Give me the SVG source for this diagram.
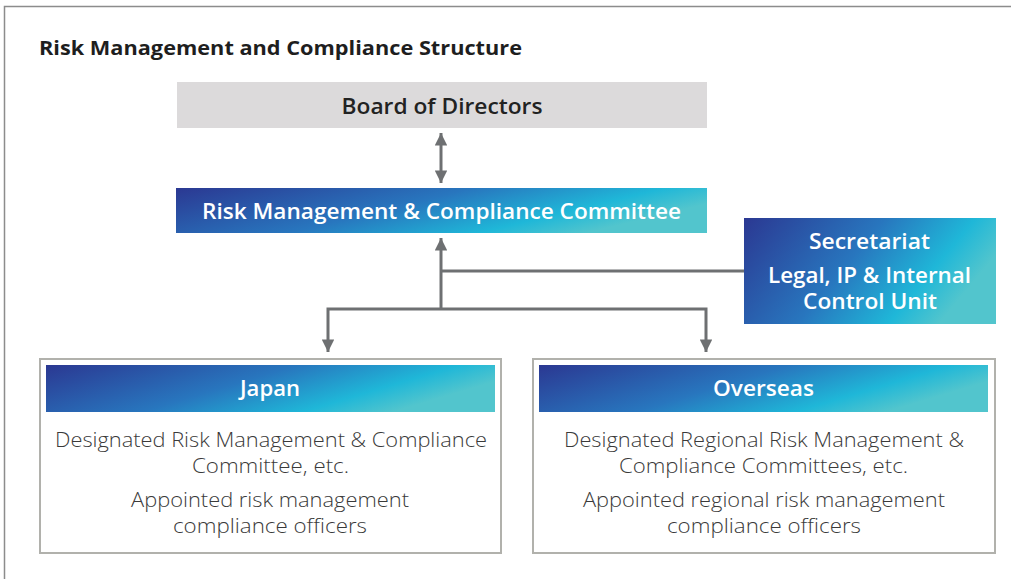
<svg xmlns="http://www.w3.org/2000/svg" width="1011" height="579" viewBox="0 0 1011 579">
<defs>
<linearGradient id="g" x1="0" y1="0" x2="1" y2="0.35" gradientUnits="objectBoundingBox">
<stop offset="0" stop-color="#2b3892"/>
<stop offset="0.5" stop-color="#2876be"/>
<stop offset="0.82" stop-color="#1fb7d8"/>
<stop offset="1" stop-color="#52c5cd"/>
</linearGradient>
<marker id="ah" viewBox="0 0 10 10" refX="10" refY="5" markerWidth="4.2" markerHeight="4.2" orient="auto-start-reverse" markerUnits="strokeWidth">
<path d="M0,0 L10,5 L0,10 z" fill="#6e7072"/>
</marker>
<style>
text{lengthAdjust:spacingAndGlyphs}
.hd{font-family:"Open Sans",sans-serif;font-weight:600;fill:#fff;font-size:21px;text-anchor:middle}
.bd{font-family:"Open Sans",sans-serif;font-weight:300;fill:#3a3a3a;font-size:20px;text-anchor:middle}
.ln{stroke:#6e7072;stroke-width:3;fill:none}
.box{fill:#fff;stroke:#b1b1ac;stroke-width:2}
</style>
</defs>
<rect x="0" y="0" width="1011" height="579" fill="#fff"/>
<path d="M4.5,579 V6.5 H1011" fill="none" stroke="#8c8c8c" stroke-width="1.5"/>
<text x="39" y="55" textLength="483" lengthAdjust="spacingAndGlyphs" style="font-family:'Open Sans',sans-serif;font-weight:700;font-size:19px;fill:#1e1e1e">Risk Management and Compliance Structure</text>
<g id="connectors">
<line class="ln" x1="441" y1="133" x2="441" y2="183" marker-start="url(#ah)" marker-end="url(#ah)"/>
<line class="ln" x1="441" y1="309" x2="441" y2="238" marker-end="url(#ah)"/>
<line class="ln" x1="441" y1="271" x2="744" y2="271"/>
<path class="ln" d="M328,352 V309 H706 V352" marker-start="url(#ah)" marker-end="url(#ah)"/>
</g>
<g id="board">
<rect x="177" y="82" width="530" height="46" fill="#dcdadb"/>
<text x="442" y="114" class="hd" style="fill:#222" textLength="201" lengthAdjust="spacingAndGlyphs">Board of Directors</text>
</g>
<g id="committee">
<rect x="176" y="188" width="531" height="45" fill="url(#g)"/>
<text x="441.5" y="219" class="hd" textLength="479" lengthAdjust="spacingAndGlyphs">Risk Management &amp; Compliance Committee</text>
</g>
<g id="secretariat">
<rect x="744" y="218" width="252" height="106" fill="url(#g)"/>
<text x="869.5" y="249" class="hd" textLength="121" lengthAdjust="spacingAndGlyphs">Secretariat</text>
<text x="869.5" y="283" class="hd" textLength="203" lengthAdjust="spacingAndGlyphs">Legal, IP &amp; Internal</text>
<text x="870" y="309" class="hd" textLength="134" lengthAdjust="spacingAndGlyphs">Control Unit</text>
</g>
<g id="japan">
<rect class="box" x="40" y="359" width="461" height="194"/>
<rect x="46" y="365" width="449" height="47" fill="url(#g)"/>
<text x="270" y="396" class="hd" textLength="60" lengthAdjust="spacingAndGlyphs">Japan</text>
<text x="271" y="447" class="bd" textLength="432" lengthAdjust="spacingAndGlyphs">Designated Risk Management &amp; Compliance</text>
<text x="270.5" y="473" class="bd" textLength="157" lengthAdjust="spacingAndGlyphs">Committee, etc.</text>
<text x="270" y="507" class="bd" textLength="278" lengthAdjust="spacingAndGlyphs">Appointed risk management</text>
<text x="270" y="533" class="bd" textLength="194" lengthAdjust="spacingAndGlyphs">compliance officers</text>
</g>
<g id="overseas">
<rect class="box" x="533" y="359" width="462" height="194"/>
<rect x="539" y="365" width="449" height="47" fill="url(#g)"/>
<text x="763.5" y="396" class="hd" textLength="101" lengthAdjust="spacingAndGlyphs">Overseas</text>
<text x="764" y="447" class="bd" textLength="400" lengthAdjust="spacingAndGlyphs">Designated Regional Risk Management &amp;</text>
<text x="763.5" y="473" class="bd" textLength="289" lengthAdjust="spacingAndGlyphs">Compliance Committees, etc.</text>
<text x="764" y="507" class="bd" textLength="362" lengthAdjust="spacingAndGlyphs">Appointed regional risk management</text>
<text x="764" y="533" class="bd" textLength="194" lengthAdjust="spacingAndGlyphs">compliance officers</text>
</g>
</svg>
